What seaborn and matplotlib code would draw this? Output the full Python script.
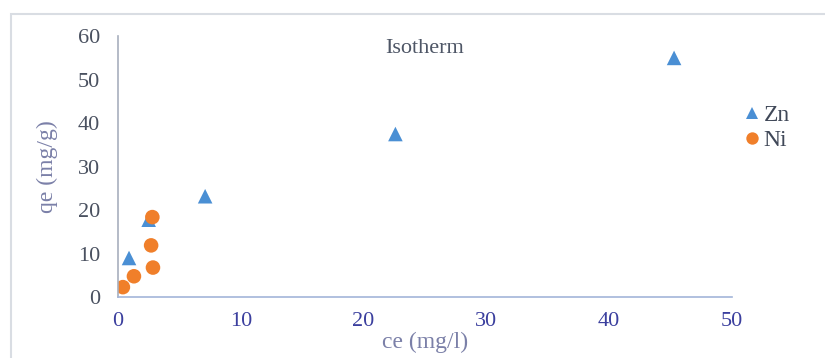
import seaborn as sns
import pandas as pd
import matplotlib.pyplot as plt
from matplotlib.patches import Rectangle

# data
zn_ce = [0.9, 2.5, 7.1, 22.6, 45.3]
zn_qe = [9.0, 17.8, 23.2, 37.5, 55.0]
ni_ce = [0.4, 1.3, 2.7, 2.85, 2.8]
ni_qe = [2.3, 4.8, 11.9, 6.8, 18.4]

x_ticks = [0, 10, 20, 30, 40, 50]
y_ticks = [0, 10, 20, 30, 40, 50, 60]

df = pd.concat([
    pd.DataFrame({"ce": zn_ce, "qe": zn_qe, "metal": "Zn"}),
    pd.DataFrame({"ce": ni_ce, "qe": ni_qe, "metal": "Ni"}),
])

sns.set_style("white")
plt.rcParams["font.family"] = ["Liberation Serif", "DejaVu Serif"]

fig = plt.figure(figsize=(8.25, 3.58), dpi=100)
ax = fig.add_axes([0.143, 0.170, 0.744, 0.729])

# outer chart border
fig.patches.append(Rectangle((0.013, -0.05), 1.05, 1.01, transform=fig.transFigure,
                             fill=False, edgecolor="#d9dde3", linewidth=1.5))

sns.scatterplot(data=df, x="ce", y="qe", hue="metal", style="metal",
                palette={"Zn": "#4a8fd4", "Ni": "#f07f2a"},
                markers={"Zn": "^", "Ni": "o"}, s=110, linewidth=0, ax=ax)

ax.set_xlim(0, 50)
ax.set_ylim(0, 60)
ax.set_xticks(x_ticks)
ax.set_yticks(y_ticks)
ax.tick_params(axis="x", colors="#3b3f9e", labelsize=16, length=0, pad=11)
ax.tick_params(axis="y", colors="#4a5160", labelsize=16, length=0, pad=13)

sns.despine(ax=ax)
ax.spines["left"].set_color("#a8afbd")
ax.spines["bottom"].set_color("#a3b5d9")
ax.spines["left"].set_linewidth(1.2)
ax.spines["bottom"].set_linewidth(1.2)

ax.set_xlabel("ce (mg/l)", fontsize=17, color="#7b80a8", labelpad=0)
ax.set_ylabel("qe (mg/g)", fontsize=17, color="#7b80a8", labelpad=14)
ax.text(0.5, 0.99, "Isotherm", transform=ax.transAxes, ha="center", va="top",
        fontsize=16, color="#4e5666")

leg = ax.legend(loc="upper left", bbox_to_anchor=(0.99, 0.80), frameon=False,
                fontsize=17, handletextpad=0.1, handlelength=0.8,
                labelspacing=0.15, markerscale=0.85, borderaxespad=0.3)
for t in leg.get_texts():
    t.set_color("#404858")

fig.savefig("out.png", dpi=100)
